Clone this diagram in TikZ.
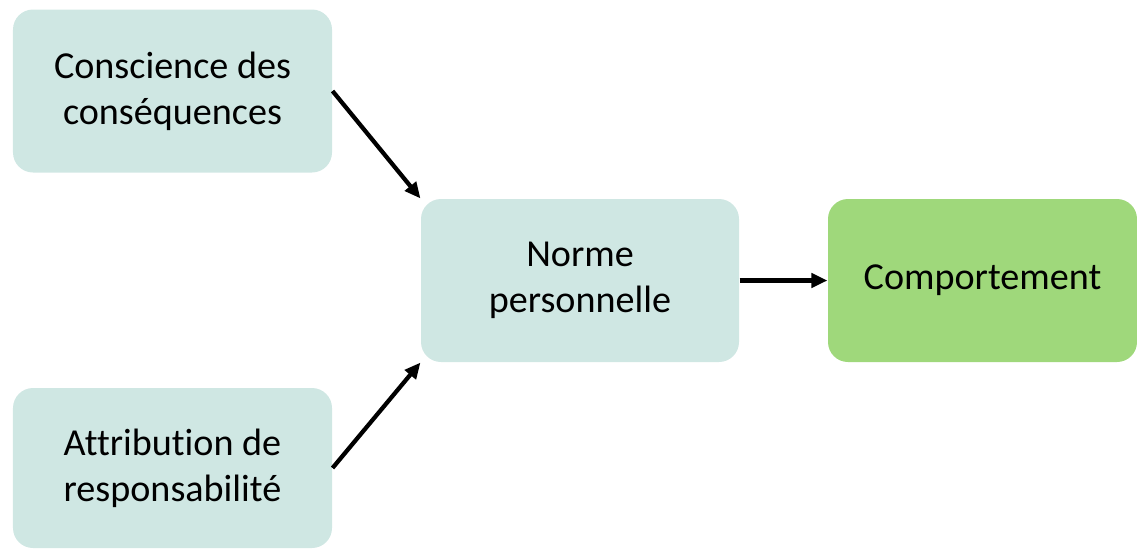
\documentclass[tikz,border=0pt]{standalone}
\usepackage{fontspec}
\setmainfont{Carlito}[Ligatures={NoCommon}]
\usetikzlibrary{arrows.meta}
\definecolor{boxteal}{HTML}{CFE7E3}
\definecolor{boxgreen}{HTML}{9FD87B}

\begin{document}
\begin{tikzpicture}[semithick,
  bloc/.style={rounded corners=0.4cm,fill=boxteal,align=center,font=\fontsize{21.7}{26}\selectfont,
    inner sep=0pt,minimum height=3.26cm},
  fleche/.style={line width=0.085cm,-{Triangle[length=0.32cm,width=0.28cm]}}]
\useasboundingbox (0,0) rectangle (22.74,-10.96);
\node[bloc,minimum width=6.38cm] (cons) at (3.45,-1.82) {Conscience des\\cons\'equences};
\node[bloc,minimum width=6.38cm,minimum height=3.2cm] (attr) at (3.45,-9.36) {Attribution de\\responsabilit\'e};
\node[bloc,minimum width=6.36cm] (norme) at (11.6,-5.61) {Norme\\personnelle};
\node[bloc,minimum width=6.18cm,fill=boxgreen] (comp) at (19.65,-5.61) {Comportement};
\draw[fleche] (cons.east)--(norme.north west);
\draw[fleche] (attr.east)--(norme.south west);
\draw[fleche] (norme.east)--(comp.west);
\end{tikzpicture}
\end{document}
